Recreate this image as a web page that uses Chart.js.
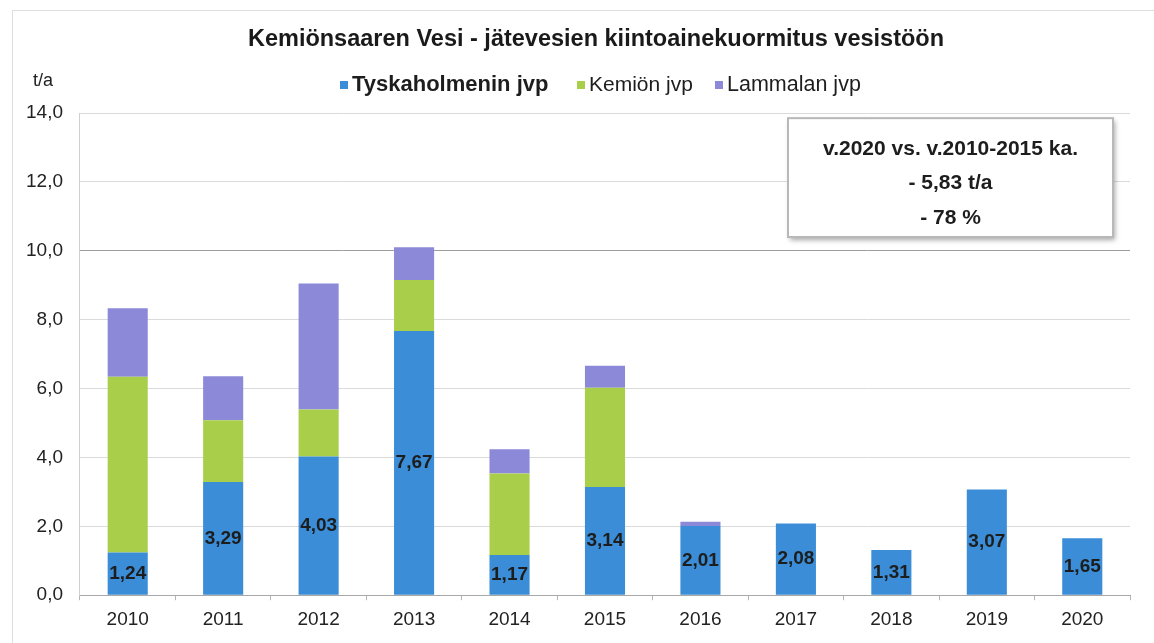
<!DOCTYPE html>
<html>
<head>
<meta charset="utf-8">
<script src="https://cdn.jsdelivr.net/npm/chart.js@4/dist/chart.umd.min.js"></script>
<style>
  html, body { margin: 0; padding: 0; background: #fff; }
  #wrap { width: 1154px; height: 643px; position: relative; }
</style>
</head>
<body>
<div id="wrap"><canvas id="myChart"></canvas></div>
<script>
// data (t/a)
var years = ['2010', '2011', '2012', '2013', '2014', '2015', '2016', '2017', '2018', '2019', '2020'];
var tyskaholmen = [1.24, 3.29, 4.03, 7.67, 1.17, 3.14, 2.01, 2.08, 1.31, 3.07, 1.65];
var kemio = [5.10, 1.79, 1.36, 1.48, 2.36, 2.88, 0, 0, 0, 0, 0];
var lammala = [1.99, 1.28, 3.66, 0.95, 0.71, 0.64, 0.12, 0, 0, 0, 0];
var seriesNames = ['Tyskaholmenin jvp', 'Kemiön jvp', 'Lammalan jvp'];
var seriesColors = ['#3a8dd6', '#a9cf4a', '#8c89d9'];
var chartTitle = 'Kemiönsaaren Vesi - jätevesien kiintoainekuormitus vesistöön';
var unitLabel = 't/a';
var boxLines = ['v.2020 vs. v.2010-2015 ka.', '- 5,83 t/a', '- 78 %'];

var FONT = "'Liberation Sans', Arial, sans-serif";

function comma(v, d) {
  return Number(v).toFixed(d).replace('.', ',');
}

var framePlugin = {
  id: 'frame',
  beforeDraw: function (chart) {
    var c = chart.ctx;
    c.save();
    c.fillStyle = '#fff';
    c.fillRect(0, 0, chart.width, chart.height);
    c.strokeStyle = '#dedede';
    c.lineWidth = 1;
    c.strokeRect(12.5, 10.5, chart.width, chart.height);
    c.restore();
  }
};

var extrasPlugin = {
  id: 'extras',
  afterDatasetsDraw: function (chart) {
    var c = chart.ctx;
    var meta = chart.getDatasetMeta(0);
    c.save();
    c.font = 'bold 19px ' + FONT;
    c.fillStyle = '#1d1d1d';
    c.textAlign = 'center';
    c.textBaseline = 'middle';
    meta.data.forEach(function (bar, i) {
      c.fillText(comma(tyskaholmen[i], 2), bar.x, (bar.y + bar.base) / 2);
    });
    c.restore();
  },
  afterDraw: function (chart) {
    var c = chart.ctx;
    var area = chart.chartArea;
    var ys = chart.scales.y;
    c.save();

    // title
    c.font = 'bold 23.5px ' + FONT;
    c.fillStyle = '#1a1a1a';
    c.textAlign = 'center';
    c.textBaseline = 'middle';
    c.fillText(chartTitle, 596, 40);

    // legend (first entry is bold in the original)
    var legendX = [340, 577, 715];
    var legendFonts = ['bold 22px ', '21px ', '21.5px '];
    c.textAlign = 'left';
    seriesNames.forEach(function (name, i) {
      c.fillStyle = seriesColors[i];
      c.fillRect(legendX[i], 81, 8, 8);
      c.font = legendFonts[i] + FONT;
      c.fillStyle = '#1d1d1d';
      c.fillText(name, legendX[i] + 12, 85);
    });

    // unit label
    c.font = '18px ' + FONT;
    c.fillStyle = '#222';
    c.fillText(unitLabel, area.left - 47, area.top - 32);

    // comparison box
    var bx = area.right - 342, bw = 325;
    var by = ys.getPixelForValue(13.85), bh = ys.getPixelForValue(10.4) - by;
    c.shadowColor = 'rgba(0,0,0,0.35)';
    c.shadowBlur = 5;
    c.shadowOffsetX = 2;
    c.shadowOffsetY = 3;
    c.fillStyle = '#fff';
    c.fillRect(bx, by, bw, bh);
    c.shadowColor = 'transparent';
    c.strokeStyle = '#b8b8b8';
    c.lineWidth = 2;
    c.strokeRect(bx, by, bw, bh);
    c.font = 'bold 21px ' + FONT;
    c.fillStyle = '#1d1d1d';
    c.textAlign = 'center';
    boxLines.forEach(function (t, i) {
      c.fillText(t, bx + bw / 2, by + 31 + i * 34.5);
    });
    c.restore();
  }
};

var ctx = document.getElementById('myChart');
var myChart = new Chart(ctx, {
  type: 'bar',
  data: {
    labels: years,
    datasets: [
      { label: seriesNames[0], data: tyskaholmen, backgroundColor: seriesColors[0] },
      { label: seriesNames[1], data: kemio, backgroundColor: seriesColors[1] },
      { label: seriesNames[2], data: lammala, backgroundColor: seriesColors[2] }
    ]
  },
  options: {
    responsive: true,
    maintainAspectRatio: false,
    animation: false,
    layout: { padding: { left: 9, right: 24, top: 113, bottom: 4 } },
    datasets: { bar: { barPercentage: 0.42, categoryPercentage: 1.0 } },
    plugins: {
      title: { display: false },
      legend: { display: false },
      tooltip: { enabled: false }
    },
    scales: {
      x: {
        stacked: true,
        grid: { drawOnChartArea: false, drawTicks: true, tickLength: 5, color: '#b5b5b5' },
        border: { color: '#a8a8a8' },
        ticks: { color: '#222', font: { family: FONT, size: 19 }, padding: 8 }
      },
      y: {
        stacked: true,
        min: 0,
        max: 14,
        grid: {
          drawTicks: false,
          color: function (c) { return c.tick && c.tick.value === 10 ? '#9c9c9c' : '#dadada'; }
        },
        border: { display: true, color: '#d0d0d0' },
        ticks: {
          stepSize: 2,
          padding: 17,
          color: '#222',
          font: { family: FONT, size: 19 },
          callback: function (v) { return comma(v, 1); }
        }
      }
    }
  },
  plugins: [framePlugin, extrasPlugin]
});
</script>
</body>
</html>
